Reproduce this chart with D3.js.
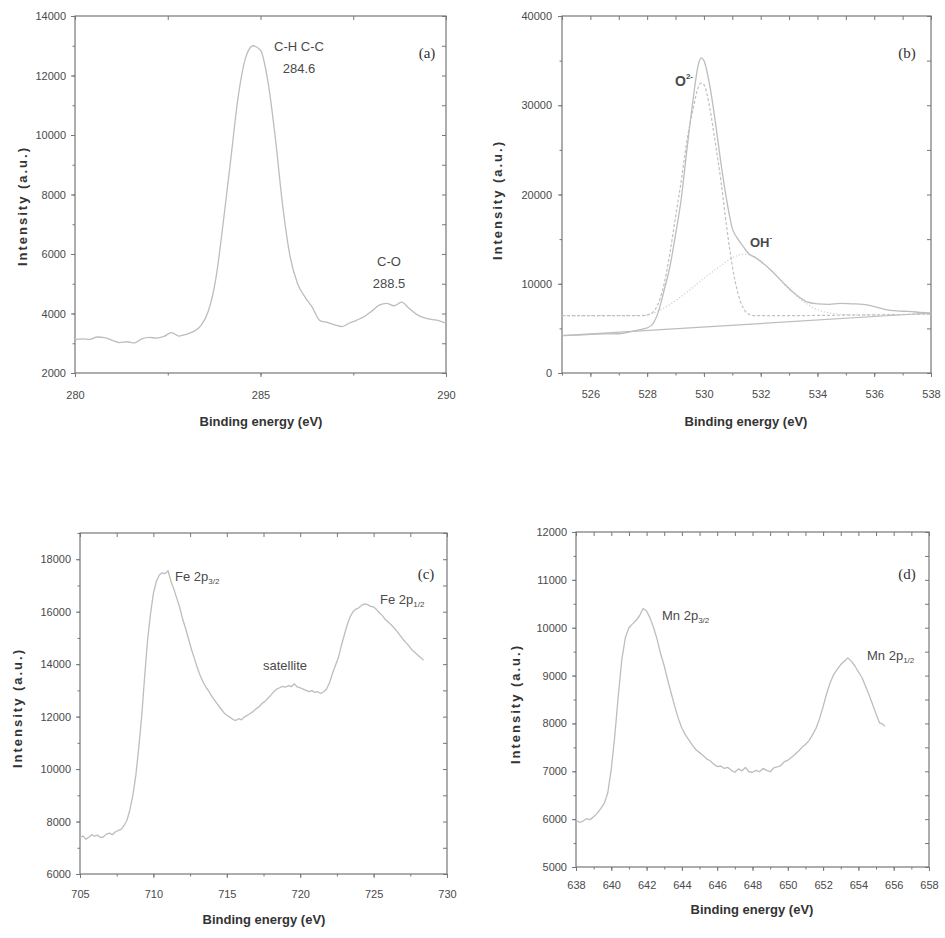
<!DOCTYPE html>
<html>
<head>
<meta charset="utf-8">
<script src="https://cdn.jsdelivr.net/npm/d3@7"></script>
<style>
  html, body { margin: 0; padding: 0; background: #fff; }
  svg { display: block; font-family: "Liberation Sans", Arial, sans-serif; }
</style>
</head>
<body>
<svg id="chart" width="945" height="938"></svg>
<script>
// ---------------- DATA ----------------
// (a) C 1s spectrum [binding energy eV, intensity]
const spectrumA = [
  [280.0,3120],[280.2,3150],[280.4,3130],[280.6,3210],[280.8,3190],[281.0,3100],[281.2,3020],
  [281.4,3050],[281.6,3010],[281.8,3150],[282.0,3200],[282.2,3170],[282.4,3230],[282.6,3360],
  [282.8,3240],[283.0,3300],[283.2,3400],[283.4,3600],[283.6,4100],[283.8,5200],[284.0,7100],
  [284.2,9200],[284.4,11300],[284.6,12600],[284.8,13000],[285.0,12850],[285.2,11800],[285.4,9900],
  [285.6,7600],[285.8,5900],[286.0,5000],[286.2,4550],[286.4,4200],[286.6,3760],[286.8,3700],
  [287.0,3620],[287.2,3560],[287.4,3680],[287.6,3780],[287.8,3900],[288.0,4080],[288.2,4280],
  [288.4,4340],[288.6,4260],[288.8,4380],[289.0,4180],[289.2,3980],[289.4,3860],[289.6,3800],
  [289.8,3760],[290.0,3680]
];
// (b) O 1s spectrum, fitted components and baseline
const spectrumB = [
  [525.0,4180],[525.5,4250],[526.0,4330],[526.5,4380],[527.0,4400],[527.5,4700],[527.8,4900],
  [528.0,5050],[528.2,5500],[528.4,6900],[528.6,9300],[528.8,11900],[529.0,15500],[529.2,19500],
  [529.4,25000],[529.6,30200],[529.8,34500],[529.9,35300],[530.0,35000],[530.2,32300],[530.4,28200],
  [530.6,23500],[530.8,19400],[531.0,16200],[531.2,15000],[531.4,14100],[531.6,13300],[531.8,12950],
  [532.0,12500],[532.4,11400],[532.8,10100],[533.2,8900],[533.6,8000],[534.0,7750],[534.4,7700],
  [534.8,7800],[535.2,7750],[535.6,7700],[536.0,7450],[536.4,7100],[536.8,6950],[537.2,6900],
  [537.6,6800],[538.0,6700]
];
const componentO2 = [
  [525.0,6420],[527.8,6420],[528.1,6600],[528.3,7200],[528.6,10000],[528.8,13400],[529.0,17500],
  [529.2,21500],[529.4,26000],[529.6,29300],[529.8,32000],[529.9,32500],[530.0,32300],[530.2,29800],
  [530.4,25800],[530.6,21500],[530.8,16400],[531.0,12000],[531.2,8900],[531.4,7200],[531.6,6550],
  [531.8,6420],[538.0,6600]
];
const componentOH = [
  [525.0,6420],[527.8,6450],[528.2,6700],[528.6,7300],[529.0,8100],[529.5,9300],[530.0,10600],
  [530.5,11800],[531.0,12900],[531.4,13300],[531.7,13150],[532.0,12600],[532.4,11400],[532.8,10000],
  [533.2,8800],[533.6,7800],[534.0,7100],[534.5,6700],[535.0,6550],[536.0,6500],[538.0,6600]
];
const baselineB = [[525.0,4180],[538.0,6720]];
// (c) Fe 2p spectrum
const spectrumC = [
  [705.0,7380],[705.2,7450],[705.4,7330],[705.6,7400],[705.8,7500],[706.0,7440],[706.2,7480],
  [706.4,7390],[706.6,7420],[706.8,7520],[707.0,7560],[707.2,7500],[707.4,7600],[707.6,7660],
  [707.8,7700],[708.0,7850],[708.2,8050],[708.4,8450],[708.6,9000],[708.8,9750],[709.0,10800],
  [709.2,12000],[709.4,13500],[709.6,14900],[709.8,15900],[710.0,16700],[710.2,17150],[710.4,17400],
  [710.6,17480],[710.8,17450],[711.0,17560],[711.2,17150],[711.4,16850],[711.6,16500],[711.8,16150],
  [712.0,15700],[712.2,15350],[712.4,14950],[712.6,14550],[712.8,14200],[713.0,13850],[713.2,13550],
  [713.4,13300],[713.6,13100],[713.8,12950],[714.0,12750],[714.2,12600],[714.4,12450],[714.6,12300],
  [714.8,12150],[715.0,12050],[715.2,11980],[715.4,11900],[715.6,11850],[715.8,11920],[716.0,11880],
  [716.2,11990],[716.4,12050],[716.6,12120],[716.8,12200],[717.0,12300],[717.2,12380],[717.4,12500],
  [717.6,12580],[717.8,12700],[718.0,12820],[718.2,12950],[718.4,13050],[718.6,13100],[718.8,13150],
  [719.0,13120],[719.2,13180],[719.4,13140],[719.6,13250],[719.8,13130],[720.0,13100],[720.2,13050],
  [720.4,13000],[720.6,12950],[720.8,12990],[721.0,12920],[721.2,12950],[721.4,12880],[721.6,12950],
  [721.8,13050],[722.0,13300],[722.2,13650],[722.4,13950],[722.6,14250],[722.8,14700],[723.0,15100],
  [723.2,15500],[723.4,15800],[723.6,16000],[723.8,16100],[724.0,16150],[724.2,16250],[724.4,16300],
  [724.6,16270],[724.8,16200],[725.0,16180],[725.2,16080],[725.4,15950],[725.6,15850],[725.8,15700],
  [726.0,15600],[726.2,15500],[726.4,15380],[726.6,15250],[726.8,15100],[727.0,14950],[727.2,14820],
  [727.4,14700],[727.6,14550],[727.8,14450],[728.0,14350],[728.2,14250],[728.4,14150]
];
// (d) Mn 2p spectrum
const spectrumD = [
  [638.0,5980],[638.2,5930],[638.4,5960],[638.6,6010],[638.8,5990],[639.0,6050],[639.2,6120],
  [639.4,6220],[639.6,6330],[639.8,6550],[640.0,7050],[640.2,7750],[640.4,8600],[640.6,9350],
  [640.8,9800],[641.0,10000],[641.2,10080],[641.4,10150],[641.6,10250],[641.8,10400],[642.0,10350],
  [642.2,10200],[642.4,10000],[642.6,9750],[642.8,9450],[643.0,9200],[643.2,8900],[643.4,8620],
  [643.6,8350],[643.8,8100],[644.0,7900],[644.2,7760],[644.4,7650],[644.6,7540],[644.8,7450],
  [645.0,7390],[645.2,7330],[645.4,7260],[645.6,7220],[645.8,7150],[646.0,7100],[646.2,7110],
  [646.4,7060],[646.6,7080],[646.8,7020],[647.0,6980],[647.2,7050],[647.4,7010],[647.6,7080],
  [647.8,6990],[648.0,6980],[648.2,7020],[648.4,6990],[648.6,7060],[648.8,7020],[649.0,6990],
  [649.2,7070],[649.4,7090],[649.6,7120],[649.8,7200],[650.0,7230],[650.2,7290],[650.4,7350],
  [650.6,7420],[650.8,7500],[651.0,7560],[651.2,7640],[651.4,7760],[651.6,7900],[651.8,8100],
  [652.0,8350],[652.2,8620],[652.4,8850],[652.6,9020],[652.8,9130],[653.0,9230],[653.2,9300],
  [653.4,9370],[653.6,9300],[653.8,9200],[654.0,9080],[654.2,8960],[654.4,8780],[654.6,8600],
  [654.8,8400],[655.0,8200],[655.2,8010],[655.4,7980],[655.5,7940]
];

// Tick values
const xTicksA = [280, 285, 290];
const yTicksA = [2000, 4000, 6000, 8000, 10000, 12000, 14000];
const xTicksB = [526, 528, 530, 532, 534, 536, 538];
const yTicksB = [0, 10000, 20000, 30000, 40000];
const xTicksC = [705, 710, 715, 720, 725, 730];
const yTicksC = [6000, 8000, 10000, 12000, 14000, 16000, 18000];
const xTicksD = [638, 640, 642, 644, 646, 648, 650, 652, 654, 656, 658];
const yTicksD = [5000, 6000, 7000, 8000, 9000, 10000, 11000, 12000];

// Text
const xTitle = "Binding energy (eV)";
const yTitle = "Intensity (a.u.)";

// ---------------- DRAWING ----------------
const svg = d3.select("#chart");
svg.append("rect").attr("width", 945).attr("height", 938).attr("fill", "#fff");

const LINE = "#bdbdbd";
const FRAME = "#777777";
const TEXT = "#4a4a4a";

function minorTicks(domain, step) {
  const out = [];
  const start = Math.ceil(domain[0] / step - 1e-9) * step;
  for (let v = start; v <= domain[1] + 1e-9; v += step) out.push(+v.toFixed(6));
  return out;
}

function panel(cfg) {
  const x = d3.scaleLinear().domain(cfg.xDomain).range([cfg.left, cfg.right]);
  const y = d3.scaleLinear().domain(cfg.yDomain).range([cfg.bottom, cfg.top]);
  const g = svg.append("g");

  g.append("rect")
    .attr("x", cfg.left).attr("y", cfg.top)
    .attr("width", cfg.right - cfg.left).attr("height", cfg.bottom - cfg.top)
    .attr("fill", "none").attr("stroke", FRAME).attr("stroke-width", 1.2);

  const xMinor = minorTicks(cfg.xDomain, cfg.xMinor);
  const yMinor = minorTicks(cfg.yDomain, cfg.yMinor);

  function styleAxis(sel) {
    sel.select(".domain").remove();
    sel.selectAll(".tick line").attr("stroke", FRAME).attr("stroke-width", 1);
    sel.selectAll(".tick text").attr("fill", TEXT)
      .style("font-family", '"Liberation Sans", Arial, sans-serif')
      .style("font-size", "11px");
  }

  g.append("g").attr("transform", `translate(0,${cfg.bottom})`)
    .call(d3.axisBottom(x).tickValues(cfg.xTicks).tickSize(4).tickPadding(cfg.xPad).tickFormat(d3.format("d")))
    .call(styleAxis);
  g.append("g").attr("transform", `translate(0,${cfg.bottom})`)
    .call(d3.axisBottom(x).tickValues(xMinor).tickSize(2.5).tickFormat(""))
    .call(styleAxis);
  g.append("g").attr("transform", `translate(${cfg.left},0)`)
    .call(d3.axisLeft(y).tickValues(cfg.yTicks).tickSize(4).tickPadding(cfg.yPad).tickFormat(d3.format("d")))
    .call(styleAxis);
  g.append("g").attr("transform", `translate(${cfg.left},0)`)
    .call(d3.axisLeft(y).tickValues(yMinor).tickSize(2.5).tickFormat(""))
    .call(styleAxis);
  g.append("g").attr("transform", `translate(0,${cfg.top})`)
    .call(d3.axisTop(x).tickValues(xMinor).tickSize(-4).tickFormat(""))
    .call(styleAxis);
  g.append("g").attr("transform", `translate(${cfg.right},0)`)
    .call(d3.axisRight(y).tickValues(yMinor).tickSize(-4).tickFormat(""))
    .call(styleAxis);

  cfg.series.forEach(s => {
    const line = d3.line().x(d => x(d[0])).y(d => y(d[1]))
      .curve(s.smooth ? d3.curveMonotoneX : d3.curveLinear);
    g.append("path").datum(s.data)
      .attr("d", line)
      .attr("fill", "none")
      .attr("stroke", s.color || LINE)
      .attr("stroke-width", s.width || 1.3)
      .attr("stroke-dasharray", s.dash || null)
      .attr("stroke-linejoin", "round");
  });

  g.append("text")
    .attr("x", cfg.xTitlePos[0]).attr("y", cfg.xTitlePos[1])
    .attr("text-anchor", "middle")
    .attr("fill", "#333").attr("font-weight", "bold").attr("font-size", 13)
    .text(xTitle);
  g.append("text")
    .attr("transform", `translate(${cfg.yTitlePos[0]},${cfg.yTitlePos[1]}) rotate(-90)`)
    .attr("text-anchor", "middle")
    .attr("fill", "#333").attr("font-weight", "bold").attr("font-size", 13)
    .attr("textLength", 118).attr("lengthAdjust", "spacing")
    .text(yTitle);

  g.append("text")
    .attr("x", cfg.letterPos[0]).attr("y", cfg.letterPos[1])
    .attr("text-anchor", "middle")
    .attr("fill", "#333")
    .style("font-family", '"Liberation Serif", "Times New Roman", serif')
    .attr("font-size", 15)
    .text(cfg.letter);

  cfg.notes.forEach(n => {
    const t = g.append("text")
      .attr("x", n.x).attr("y", n.y)
      .attr("text-anchor", n.anchor || "start")
      .attr("fill", TEXT)
      .attr("font-size", n.size || 13)
      .attr("font-weight", n.bold ? "bold" : "normal");
    t.append("tspan").text(n.text);
    if (n.sub) t.append("tspan").attr("font-size", 8).attr("dy", 3).text(n.sub);
    if (n.sup) t.append("tspan").attr("font-size", 8).attr("dy", -7).text(n.sup);
  });
}

// (a)
panel({
  left: 75, right: 446, top: 16, bottom: 373,
  xDomain: [280, 290], yDomain: [2000, 14000],
  xTicks: xTicksA, yTicks: yTicksA, xMinor: 2.5, yMinor: 1000,
  xPad: 14, yPad: 5,
  series: [{ data: spectrumA, smooth: true }],
  xTitlePos: [261, 426], yTitlePos: [27, 207],
  letter: "(a)", letterPos: [427, 58],
  notes: [
    { text: "C-H C-C", x: 299, y: 51, anchor: "middle" },
    { text: "284.6", x: 299, y: 73, anchor: "middle" },
    { text: "C-O", x: 389, y: 266, anchor: "middle" },
    { text: "288.5", x: 389, y: 288, anchor: "middle" }
  ]
});

// (b)
panel({
  left: 562, right: 931, top: 16, bottom: 373,
  xDomain: [525, 538], yDomain: [0, 40000],
  xTicks: xTicksB, yTicks: yTicksB, xMinor: 1, yMinor: 5000,
  xPad: 13, yPad: 6,
  series: [
    { data: baselineB, width: 1.2 },
    { data: componentOH, dash: "1.2,2", color: "#cacaca", width: 1.1, smooth: true },
    { data: componentO2, dash: "3,2", color: "#c0c0c0", width: 1.2, smooth: true },
    { data: spectrumB, smooth: true }
  ],
  xTitlePos: [746, 426], yTitlePos: [502, 201],
  letter: "(b)", letterPos: [907, 58],
  notes: [
    { text: "O", sup: "2-", x: 675, y: 86, bold: true, size: 14 },
    { text: "OH", sup: "-", x: 750, y: 247, bold: true, size: 13 }
  ]
});

// (c)
panel({
  left: 80, right: 447, top: 533, bottom: 874,
  xDomain: [705, 730], yDomain: [6000, 19000],
  xTicks: xTicksC, yTicks: yTicksC, xMinor: 2.5, yMinor: 1000,
  xPad: 12, yPad: 5,
  series: [{ data: spectrumC }],
  xTitlePos: [264, 924], yTitlePos: [22, 709],
  letter: "(c)", letterPos: [426, 579],
  notes: [
    { text: "Fe 2p", sub: "3/2", x: 175, y: 581 },
    { text: "satellite", x: 285, y: 670, anchor: "middle" },
    { text: "Fe 2p", sub: "1/2", x: 380, y: 604 }
  ]
});

// (d)
panel({
  left: 576, right: 929, top: 532, bottom: 867,
  xDomain: [638, 658], yDomain: [5000, 12000],
  xTicks: xTicksD, yTicks: yTicksD, xMinor: 1, yMinor: 500,
  xPad: 10, yPad: 5,
  series: [{ data: spectrumD }],
  xTitlePos: [752, 914], yTitlePos: [520, 705],
  letter: "(d)", letterPos: [907, 579],
  notes: [
    { text: "Mn 2p", sub: "3/2", x: 662, y: 620 },
    { text: "Mn 2p", sub: "1/2", x: 867, y: 660 }
  ]
});
</script>
</body>
</html>
